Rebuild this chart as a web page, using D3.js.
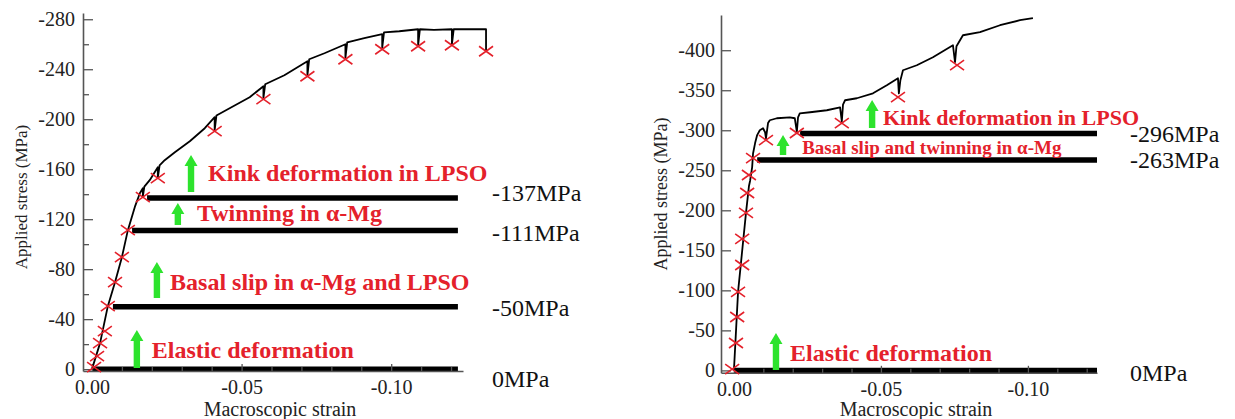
<!DOCTYPE html>
<html lang="en">
<head>
<meta charset="utf-8">
<title>Applied stress vs macroscopic strain</title>
<script src="https://cdn.jsdelivr.net/npm/d3@7"></script>
<style>
  body { margin: 0; background: #fff; }
  text { font-family: "Liberation Serif", "Times New Roman", serif; }
</style>
</head>
<body>
<script>
// ---- left panel: simulated curve, unloading points and CRSS levels ----
var curveStrainL = [0, -0.0027, -0.0053, -0.0077, -0.010, -0.012, -0.0143, -0.016, -0.017, -0.017, -0.0175,
  -0.0193, -0.022, -0.022, -0.0226, -0.0243, -0.0277, -0.0327, -0.0377, -0.041, -0.041, -0.0416,
  -0.046, -0.0527, -0.0573, -0.0573, -0.0579, -0.0643, -0.072, -0.072, -0.0726, -0.0777, -0.0847, -0.0847,
  -0.0853, -0.091, -0.097, -0.097, -0.0976, -0.1027, -0.109, -0.109, -0.1096, -0.1143, -0.1203, -0.1203,
  -0.1209, -0.126, -0.1317, -0.1317];
var curveStressL = [0, -20.8, -50.4, -69.6, -89.6, -111.2, -129.6, -140.8, -144.8, -138, -146,
  -151.2, -161.6, -153, -163, -167.2, -173.6, -182.4, -192.8, -201.6, -191, -203,
  -208.8, -217.6, -226.4, -217, -228, -235.2, -246.4, -235, -248, -252.8, -260, -249,
  -261.5, -264.8, -268, -257, -269.5, -270.4, -272, -259, -272, -271.5, -272, -260,
  -272, -272, -272, -255];
var markStrainL = [-0.0007, -0.0017, -0.0027, -0.0043, -0.0053, -0.0077, -0.010, -0.012, -0.017, -0.022,
  -0.041, -0.0573, -0.072, -0.0847, -0.097, -0.109, -0.1203, -0.1317];
var markStressL = [-1.6, -10.4, -20.8, -30.4, -50.4, -69.6, -89.6, -111.2, -137.6, -152.8,
  -190.4, -216, -234.4, -248, -256, -258.4, -259.2, -254.4];
var levelsL = [0, -50, -111, -137];
var levelStartL = [0, -0.007, -0.0134, -0.0184];
var levelLabelsL = ["0MPa", "-50MPa", "-111MPa", "-137MPa"];
var yTicksL = [0, -40, -80, -120, -160, -200, -240, -280];
var yMinorL = [-20, -60, -100, -140, -180, -220, -260];
var notesL = ["Elastic deformation", "Basal slip in \u03b1-Mg and LPSO", "Twinning in \u03b1-Mg", "Kink deformation in LPSO"];

// ---- right panel ----
var curveStrainR = [0, -0.0014, -0.0041, -0.0051, -0.0055, -0.0062, -0.0065, -0.0072, -0.0079, -0.0088, -0.0099,
  -0.0106, -0.0109, -0.0116, -0.0122, -0.0146, -0.019, -0.0207, -0.0214, -0.0218, -0.0224, -0.0259, -0.0316,
  -0.0361, -0.0367, -0.0371, -0.0378, -0.0418, -0.0473, -0.052, -0.0558, -0.0561, -0.0566, -0.0575, -0.0622,
  -0.0677, -0.0745, -0.0752, -0.0757, -0.0779, -0.0837, -0.0905, -0.0973, -0.1017];
var curveStressR = [0, -98, -196.7, -230, -237, -254, -271, -284, -294, -300, -302.5,
  -297.5, -290, -309, -312.5, -315, -316.2, -315, -298, -316, -321.2, -322.5, -325,
  -328.7, -311, -332, -337.5, -340, -346.2, -356.2, -365, -346, -362, -375, -381.2,
  -391.2, -406.2, -385, -405, -418.7, -422.5, -431.2, -437.5, -440];
var markStrainR = [0.0006, -0.0007, -0.0011, -0.0014, -0.0028, -0.0028, -0.0041, -0.0045, -0.0051, -0.0065,
  -0.0109, -0.0214, -0.0367, -0.0558, -0.0759];
var markStressR = [-1.7, -34.2, -66.7, -98, -131.7, -164.2, -196.7, -221.6, -244.1, -265.3,
  -287.8, -296.6, -309, -341.5, -381.5];
var levelsR = [0, -263, -296];
var levelStartR = [0, -0.0079, -0.0225];
var levelLabelsR = ["0MPa", "-263MPa", "-296MPa"];
var yTicksR = [0, -50, -100, -150, -200, -250, -300, -350, -400];
var notesR = ["Elastic deformation", "Basal slip and twinning in \u03b1-Mg", "Kink deformation in LPSO"];

var xTicks = [0, -0.05, -0.10];
var xTickLabels = ["0.00", "-0.05", "-0.10"];
var xMinor = [-0.01, -0.02, -0.03, -0.04, -0.06, -0.07, -0.08, -0.09, -0.11, -0.12];

var W = 1235, H = 419;
var red = "#e4212b", green = "#2de32d";

var svg = d3.select("body").append("svg")
  .attr("width", W).attr("height", H)
  .style("background", "#fff");

// layout of each panel (pixel boxes and annotation anchors in data units)
var panels = [
  {
    strain: curveStrainL, stress: curveStressL, mx: markStrainL, my: markStressL,
    levels: levelsL, levelStart: levelStartL, levelEnd: -0.1223, levelLabels: levelLabelsL,
    labelDy: [9, 1, 2, -5],
    yTicks: yTicksL, yMinor: yMinorL,
    xDomain: [0.003, -0.124], xRange: [83, 463],
    yDomain: [1.5, -285], yRange: [371, 13],
    labelX: 492, yTitle: [21, 197], yTitleSize: 17, pad: 8,
    notes: notesL, noteSize: [24, 24, 24, 24],
    arrows: [[-0.015, -1, -31.4], [-0.0217, -57, -85.8], [-0.0287, -115.4, -133], [-0.0331, -141.8, -171.4]],
    noteAt: [[-0.020, -15.4], [-0.0261, -69.8], [-0.0351, -125], [-0.0388, -157]]
  },
  {
    strain: curveStrainR, stress: curveStressR, mx: markStrainR, my: markStressR,
    levels: levelsR, levelStart: levelStartR, levelEnd: -0.1235, levelLabels: levelLabelsR,
    labelDy: [2, 0, 0],
    yTicks: yTicksR, yMinor: [],
    xDomain: [0.0044, -0.1235], xRange: [721, 1097],
    yDomain: [3, -444], yRange: [372.8, 15],
    labelX: 1130, yTitle: [661, 194], yTitleSize: 18, pad: 6,
    notes: notesR, noteSize: [24, 19, 22],
    arrows: [[-0.0143, -0.5, -46.7], [-0.0167, -269.1, -294.1], [-0.047, -302.8, -337.8]],
    noteAt: [[-0.0191, -21.7], [-0.0232, -279], [-0.0507, -316.6]]
  }
];

panels.forEach(function(p) {
  var x = d3.scaleLinear().domain(p.xDomain).range(p.xRange);
  var y = d3.scaleLinear().domain(p.yDomain).range(p.yRange);
  var g = svg.append("g");
  var x0 = p.xRange[0], yb = p.yRange[0];

  // thick CRSS level lines
  g.selectAll(".level").data(p.levels).enter().append("line")
    .attr("x1", function(d, i) { return x(p.levelStart[i]); })
    .attr("x2", x(p.levelEnd))
    .attr("y1", function(d) { return y(d); })
    .attr("y2", function(d) { return y(d); })
    .attr("stroke", "#000").attr("stroke-width", 5.5);

  g.selectAll(".lvlabel").data(p.levels).enter().append("text")
    .attr("x", p.labelX)
    .attr("y", function(d, i) { return y(d) + p.labelDy[i]; })
    .attr("dy", "0.35em")
    .attr("font-size", 24).attr("fill", "#111")
    .text(function(d, i) { return p.levelLabels[i]; });

  // axes
  var yAxis = d3.axisLeft(y).tickValues(p.yTicks).tickSizeInner(-10).tickSizeOuter(0)
    .tickPadding(p.pad).tickFormat(function(d) { return String(d); });
  g.append("g").attr("transform", "translate(" + x0 + ",0)").call(yAxis);
  if (p.yMinor.length) {
    g.append("g").attr("transform", "translate(" + x0 + ",0)")
      .call(d3.axisLeft(y).tickValues(p.yMinor).tickSizeInner(-6).tickSizeOuter(0).tickFormat(""))
      .select(".domain").remove();
  }
  var xAxis = d3.axisBottom(x).tickValues(xTicks).tickSizeInner(-7).tickSizeOuter(0)
    .tickPadding(9).tickFormat(function(d, i) { return xTickLabels[i]; });
  g.append("g").attr("transform", "translate(0," + yb + ")").call(xAxis);
  g.append("g").attr("transform", "translate(0," + yb + ")")
    .call(d3.axisBottom(x).tickValues(xMinor).tickSizeInner(-4).tickSizeOuter(0).tickFormat(""))
    .select(".domain").remove();

  g.selectAll(".domain").attr("stroke", "#555").attr("stroke-width", 1.6);
  g.selectAll(".tick line").attr("stroke", "#555").attr("stroke-width", 1.3);
  g.selectAll(".tick text").attr("font-family", "Liberation Serif").attr("font-size", 20).attr("fill", "#222");

  // axis titles
  g.append("text")
    .attr("transform", "translate(" + p.yTitle[0] + "," + p.yTitle[1] + ") rotate(-90)")
    .attr("text-anchor", "middle").attr("dy", "0.35em")
    .attr("font-size", p.yTitleSize).attr("fill", "#222")
    .text("Applied stress (MPa)");
  g.append("text")
    .attr("x", (p.xRange[0] + p.xRange[1]) / 2 + 7).attr("y", 410)
    .attr("text-anchor", "middle").attr("dy", "0.32em")
    .attr("font-size", 20).attr("fill", "#222")
    .text("Macroscopic strain");

  // stress-strain curve
  var pts = p.strain.map(function(s, i) { return [s, p.stress[i]]; });
  g.append("path").datum(pts)
    .attr("fill", "none").attr("stroke", "#000").attr("stroke-width", 1.8)
    .attr("stroke-linejoin", "round")
    .attr("d", d3.line().x(function(d) { return x(d[0]); }).y(function(d) { return y(d[1]); }));

  // unloading points (red crosses)
  g.selectAll(".mark").data(p.mx).enter().append("path")
    .attr("transform", function(d, i) { return "translate(" + x(d) + "," + y(p.my[i]) + ")"; })
    .attr("d", "M-7,-5L7,5M-7,5L7,-5")
    .attr("stroke", red).attr("stroke-width", 1.6).attr("fill", "none");

  // green arrows
  g.selectAll(".arrow").data(p.arrows).enter().append("path")
    .attr("fill", green)
    .attr("d", function(a) {
      var ax = x(a[0]), y0 = y(a[1]), y1 = y(a[2]);
      var hw = 6.5, sw = 3.2, hl = 11;
      return "M" + (ax - sw) + "," + y0 + "L" + (ax - sw) + "," + (y1 + hl) + "L" + (ax - hw) + "," + (y1 + hl) +
        "L" + ax + "," + y1 + "L" + (ax + hw) + "," + (y1 + hl) + "L" + (ax + sw) + "," + (y1 + hl) +
        "L" + (ax + sw) + "," + y0 + "Z";
    });

  g.selectAll(".note").data(p.notes).enter().append("text")
    .attr("x", function(d, i) { return x(p.noteAt[i][0]); })
    .attr("y", function(d, i) { return y(p.noteAt[i][1]); })
    .attr("dy", "0.35em")
    .attr("font-size", function(d, i) { return p.noteSize[i]; })
    .attr("font-weight", "bold").attr("fill", red)
    .text(function(d) { return d; });
});
</script>
</body>
</html>
